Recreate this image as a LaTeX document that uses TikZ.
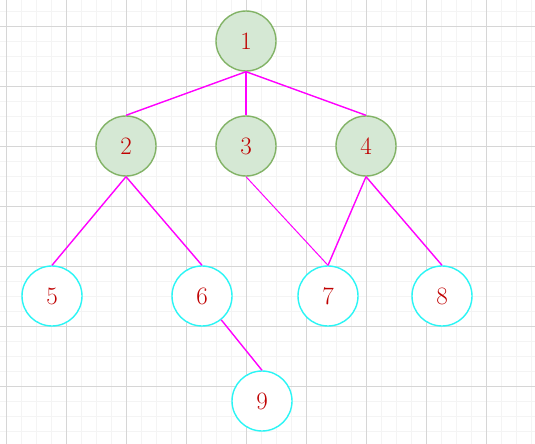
\documentclass[tikz,border=0pt]{standalone}
\usepackage{fontspec}
\definecolor{leafgreen}{HTML}{D5E8D4}
\definecolor{leafborder}{HTML}{82B366}
\definecolor{ringcyan}{HTML}{2AF5F5}
\definecolor{numred}{HTML}{C00000}
\definecolor{edgepink}{HTML}{FF00FF}
\definecolor{gridmajor}{HTML}{D6D6D6}
\definecolor{gridminor}{HTML}{F4F4F4}

\begin{document}
\begin{tikzpicture}[
  x=1pt, y=1pt,
  vertex/.style={circle, draw, line width=1.4pt, minimum size=60pt, inner sep=0pt, text=numred, font=\fontsize{25}{30}\selectfont},
  inner/.style={vertex, fill=leafgreen, draw=leafborder},
  outer/.style={vertex, fill=white, draw=ringcyan},
  edge/.style={edgepink, line width=1.4pt},
]
\useasboundingbox (-6,26) rectangle (529,-418);

% === BACKGROUND GRID ===
\fill[white] (-6,26) rectangle (529,-418);
\draw[gridminor, line width=0.6pt, step=15pt] (-6,26) grid (529,-418);
\draw[gridmajor, line width=0.8pt, step=60pt] (-6,26) grid (529,-418);

% === TREE NODES ===
\node[inner] (n1) at (240, -15) {1};
\node[inner] (n2) at (120,-120) {2};
\node[inner] (n3) at (240,-120) {3};
\node[inner] (n4) at (360,-120) {4};
\node[outer] (n5) at (46,-270) {5};
\node[outer] (n6) at (196,-270) {6};
\node[outer] (n7) at (322,-270) {7};
\node[outer] (n8) at (436,-270) {8};
\node[outer] (n9) at (256,-375) {9};

% === EDGES ===
\draw[edge] (n1.south) -- (n2.north);
\draw[edge] (n1.south) -- (n3.north);
\draw[edge] (n1.south) -- (n4.north);
\draw[edge] (n2.south) -- (n5.north);
\draw[edge] (n2.south) -- (n6.north);
\draw[edge, line width=1pt] (n3.south) -- (n7.north);
\draw[edge] (n4.south) -- (n7.north);
\draw[edge] (n4.south) -- (n8.north);
\draw[edge] (n6) -- (n9.north);
\end{tikzpicture}
\end{document}
